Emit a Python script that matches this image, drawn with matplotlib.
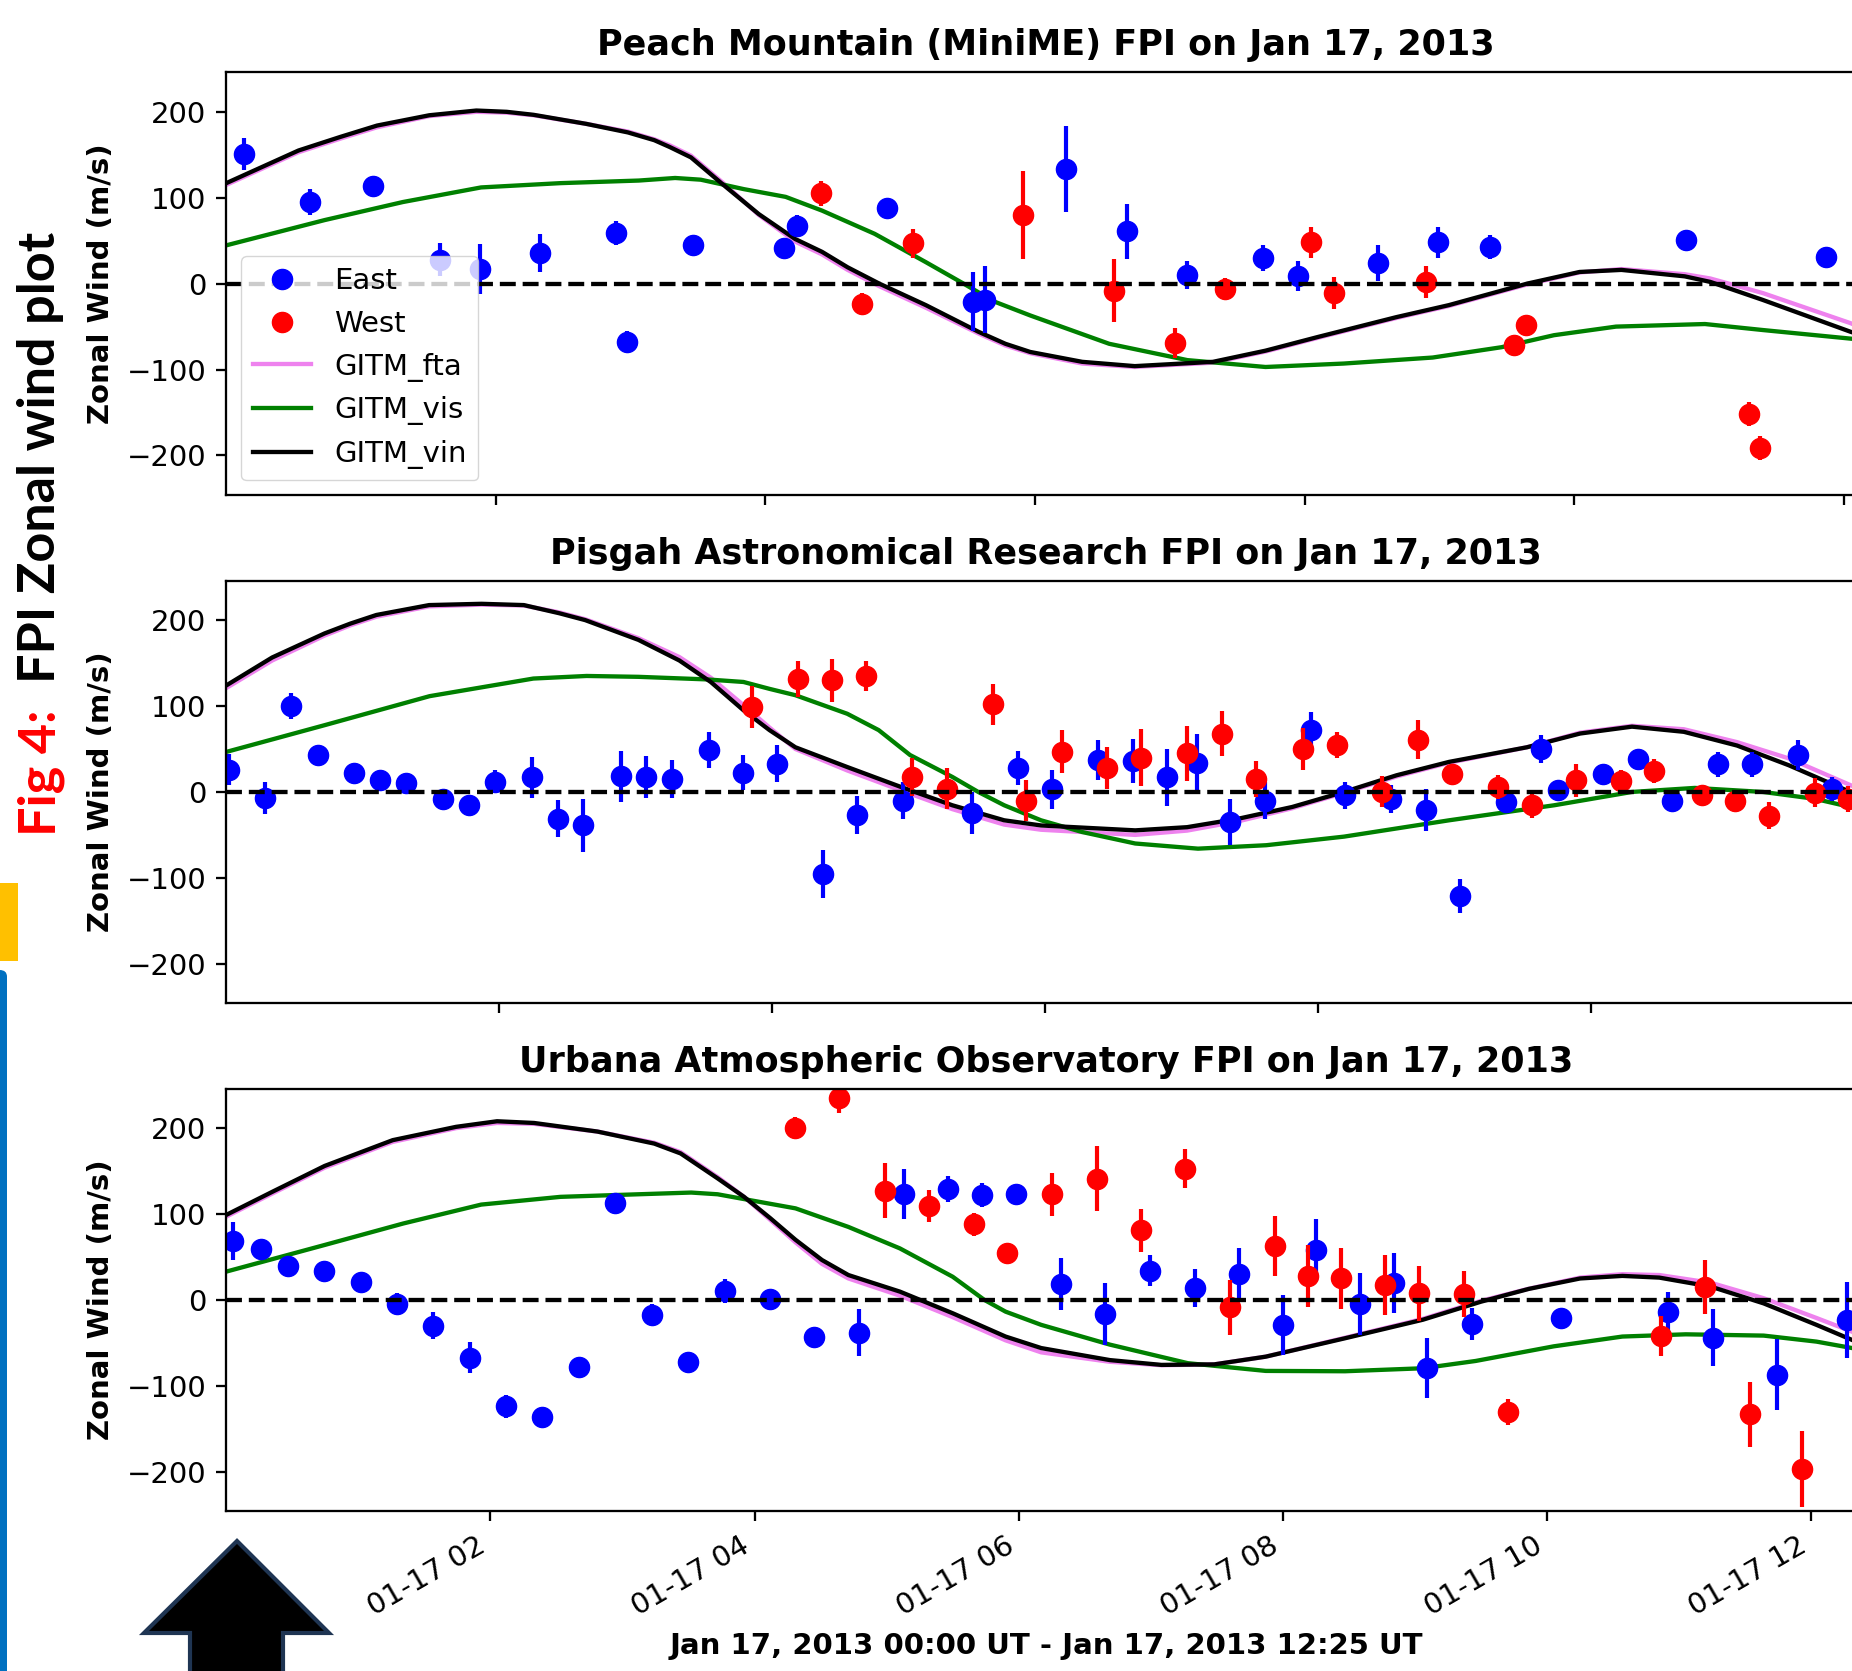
import matplotlib
matplotlib.use("Agg")
import matplotlib.pyplot as plt
from matplotlib.patches import Polygon, Rectangle, FancyBboxPatch

# ---------------- Peach Mountain (MiniME) ----------------
pm_east_t = [0.128, 0.621, 1.087, 1.588, 1.883, 2.329, 2.888, 2.974, 3.459, 4.138, 4.231, 4.903,
             5.54, 5.63, 6.232, 6.682, 7.125, 7.688, 7.952, 8.546, 8.992, 9.373, 10.828, 11.865]
pm_east_v = [151, 95, 114, 28, 17, 36, 59, -68, 45, 42, 67, 88,
             -21, -19, 133, 61, 10, 30, 9, 24, 48, 43, 51, 31]
pm_east_e = [19, 15, 5, 19, 29, 22, 14, 13, 5, 8, 13, 5,
             34, 39, 50, 32, 16, 15, 17, 21, 18, 14, 6, 6]
pm_west_t = [4.414, 4.717, 5.097, 5.912, 6.589, 7.039, 7.412, 8.049, 8.22, 8.899, 9.555, 9.644,
             11.294, 11.375]
pm_west_v = [105, -24, 47, 80, -8, -69, -6, 48, -11, 2, -71, -48, -152, -191]
pm_west_e = [15, 13, 17, 51, 37, 17, 13, 18, 19, 19, 5, 6, 14, 14]
pm_vin_t = [0, 0.536, 0.85, 1.118, 1.506, 1.855, 2.08, 2.28, 2.67, 2.98, 3.175, 3.29, 3.447, 3.68,
            3.95, 4.22, 4.42, 4.61, 4.845, 5.19, 5.58, 5.78, 5.964, 6.35, 6.74, 7.32, 7.71, 8.10,
            8.68, 9.07, 9.65, 10.04, 10.35, 10.82, 11.01, 11.40, 12.05, 12.17]
pm_vin = [117, 155, 171, 184, 196, 201.5, 200, 196.5, 186, 176, 167, 159, 147, 116,
          81, 52, 37, 19, 0, -25, -56, -70, -79.5, -91, -96, -91, -78, -62,
          -39, -25, 0, 13.6, 16, 8.5, 2, -19, -56, -62]
pm_fta = [115, 153, 169, 182, 195, 200, 199, 196, 186, 177, 168, 161, 149, 118,
          80, 49, 34, 16, -3, -28, -58, -72, -81, -93, -97, -92, -79, -63,
          -40, -26, -1, 13, 17, 11, 6, -11, -46, -54]
pm_vis_t = [0, 0.73, 1.31, 1.89, 2.48, 3.06, 3.33, 3.52, 3.84, 4.15, 4.42, 4.81, 5.19, 5.47,
            5.70, 5.964, 6.55, 7.13, 7.71, 8.29, 8.95, 9.46, 9.85, 10.31, 10.97, 11.40, 12.05, 12.17]
pm_vis = [44.6, 74, 95, 112, 117, 120, 123, 121, 110, 101, 85, 58, 25, 0,
          -21, -37, -70, -89, -97, -93, -86, -74, -60, -50, -47, -54, -64, -66]

# ---------------- Pisgah Astronomical Research ----------------
par_east_t = [0.021, 0.286, 0.474, 0.670, 0.938, 1.126, 1.318, 1.590, 1.778, 1.966, 2.242, 2.429,
              2.613, 2.89, 3.074, 3.265, 3.534, 3.787, 4.036, 4.374, 4.623, 4.96, 5.463, 5.80,
              6.052, 6.39, 6.643, 6.896, 7.11, 7.352, 7.609, 7.95, 8.195, 8.537, 8.794, 9.043,
              9.38, 9.63, 9.756, 10.09, 10.343, 10.596, 10.929, 11.179, 11.516, 11.769]
par_east_v = [26, -7, 100, 43, 22, 14, 10.5, -8.5, -15, 12, 17, -31,
              -39, 18, 17.5, 15.5, 48.5, 22.5, 33, -95, -27, -10, -24.5, 28,
              3, 37, 36, 17, 34, -35, -10, 72, -4, -8, -21, -121,
              -12, 50, 2, 21, 38, -10, 32, 32, 43, 3]
par_east_e = [18, 19, 15, 4, 4, 4, 4, 4, 4, 13, 24, 22,
              31, 30, 24, 22, 21, 20, 22, 28, 22, 21, 24, 20,
              23, 23, 26, 33, 34, 27, 22, 21, 16, 16, 25, 20,
              13, 16, 5, 5, 5, 5, 15, 15, 17, 14]
par_west_t = [3.852, 4.186, 4.439, 4.689, 5.025, 5.278, 5.616, 5.861, 6.121, 6.451, 6.704, 7.041,
              7.294, 7.544, 7.889, 8.138, 8.468, 8.732, 8.982, 9.315, 9.564, 9.887, 10.216,
              10.465, 10.811, 11.056, 11.305, 11.643, 11.884]
par_west_v = [99, 131, 130, 135, 17, 4, 102, -10, 47, 28, 40, 45,
              68, 15.5, 50, 55, 0, 61, 21, 6, -15.5, 13.6, 12.8,
              24, -3, -10.5, -27.6, -1, -8]
par_west_e = [24, 21, 25, 18, 22, 24, 24, 24, 25, 24, 33, 32,
              26, 21, 24, 15, 18, 23, 5, 14, 15, 19, 13,
              14, 5, 13, 16, 17, 15]
par_vin_t = [0, 0.336, 0.72, 0.91, 1.10, 1.486, 1.87, 2.18, 2.44, 2.63, 3.02, 3.32, 3.55, 3.79,
             3.98, 4.17, 4.55, 4.94, 5.32, 5.70, 5.97, 6.66, 7.04, 7.42, 7.81, 8.19, 8.575, 8.96,
             9.53, 9.92, 10.30, 10.68, 11.07, 11.45, 11.90, 12.02]
par_vin = [124, 156.5, 184.5, 196, 206, 217.5, 219, 217.5, 208, 200, 177, 153, 128, 95,
           72, 52, 29, 6, -15.5, -33, -39, -44.7, -41, -31, -17.5, 0, 19.4, 35,
           52, 68, 76, 70, 54, 31, 0, -8]
par_fta = [121, 153, 182, 194, 204, 216, 218, 217, 209, 201, 179, 157, 133, 101,
           75, 50, 25, 2, -20, -38, -44, -50, -45, -34, -19, -1, 18, 34,
           52, 69, 77, 73, 58, 39, 8, 0]
par_vis_t = [0, 0.72, 1.49, 2.25, 2.64, 3.02, 3.52, 3.79, 3.98, 4.17, 4.55, 4.78, 5.01, 5.32,
             5.51, 5.70, 5.97, 6.27, 6.66, 7.12, 7.62, 8.19, 8.96, 9.73, 10.30, 10.76, 11.26,
             11.64, 11.90, 12.02]
par_vis = [46.6, 77.7, 111.5, 132, 135, 134, 131, 128, 120, 112.6, 91, 72, 43, 17.5,
           0, -15.5, -33, -46.6, -60, -66, -62, -52, -33, -15.5, 0, 4.7, 0,
           -8, -17.5, -20]

# ---------------- Urbana Atmospheric Observatory ----------------
uao_east_t = [0.051, 0.262, 0.468, 0.741, 1.018, 1.296, 1.565, 1.843, 2.120, 2.394, 2.671, 2.945,
              3.222, 3.496, 3.773, 4.114, 4.447, 4.788, 5.128, 5.465, 5.723, 5.977, 6.317, 6.654,
              6.991, 7.332, 7.668, 8.001, 8.251, 8.584, 8.842, 9.091, 9.428, 10.106, 10.919,
              11.255, 11.739, 12.274]
uao_east_v = [69, 59, 40, 34, 21, -5, -30, -67, -124, -136, -78, 113,
              -17.5, -72, 10, 1, -43, -38, 123, 129, 122, 123, 18.6, -16.7,
              34, 13.6, 30, -29, 58, -5, 20, -79, -28, -21, -14,
              -44, -87, -23]
uao_east_e = [22, 8, 4, 10, 4, 13, 16, 18, 13, 4, 4, 5,
              13, 4, 14, 10, 4, 27, 29, 15, 14, 5, 30, 36,
              18, 22, 31, 35, 36, 36, 35, 35, 19, 5, 23,
              33, 41, 44]
uao_west_t = [4.305, 4.641, 4.986, 5.323, 5.664, 5.913, 6.253, 6.590, 6.927, 7.260, 7.601, 7.938,
              8.192, 8.437, 8.774, 9.028, 9.373, 9.706, 10.859, 11.192, 11.533, 11.929]
uao_west_v = [200, 234.5, 127, 109.5, 88, 55, 123, 141, 81, 153, -8.5, 63,
              28, 25, 17, 8, 7, -130, -42, 15, -133, -197]
uao_west_e = [13, 17, 32, 19, 13, 5, 25, 38, 25, 23, 32, 35,
              36, 36, 35, 32, 27, 15, 23, 31, 38, 44]
uao_vin_t = [0, 0.35, 0.745, 1.26, 1.74, 2.05, 2.33, 2.81, 3.24, 3.44, 3.72, 3.92, 4.12, 4.31,
             4.51, 4.71, 5.10, 5.50, 5.90, 6.17, 6.69, 7.08, 7.48, 7.87, 8.47, 9.06, 9.50, 9.86,
             10.25, 10.57, 10.85, 11.24, 11.64, 12.04, 12.31, 12.43]
uao_vin = [99, 126, 156, 186, 201.5, 208, 206, 196, 182, 170.5, 141.5, 120, 95, 70,
           46.5, 29, 9.7, -15.5, -42.6, -56, -70, -75.6, -75, -66, -44.6, -23, -2, 12.8,
           25, 28, 26, 15.5, -4, -29, -46.6, -54]
uao_fta = [97, 124, 154, 184, 200, 206, 205, 196, 183, 172, 143, 120, 93, 67,
           42, 25, 5, -20, -47, -61, -72, -76, -75, -66, -44, -22, -1, 13,
           26, 30, 29, 20, 2, -21, -37, -45]
uao_vis_t = [0, 0.745, 1.34, 1.93, 2.53, 3.12, 3.52, 3.72, 3.92, 4.31, 4.71, 5.10, 5.50, 5.74,
             5.90, 6.17, 6.69, 7.28, 7.87, 8.47, 9.06, 9.46, 10.05, 10.57, 11.05, 11.64, 12.04,
             12.31, 12.43]
uao_vis = [33, 64, 89, 111, 120, 123, 125, 123, 117.4, 106.6, 85, 60, 27, 0,
           -13.6, -29, -52, -73.6, -82.6, -83, -79.5, -71, -54, -42.6, -40, -41.5, -48.5,
           -56, -59]

titles = ["Peach Mountain (MiniME) FPI on Jan 17, 2013",
          "Pisgah Astronomical Research FPI on Jan 17, 2013",
          "Urbana Atmospheric Observatory FPI on Jan 17, 2013"]
x_end_hours = [12.167, 12.017, 12.417]
tick_hours = [2, 4, 6, 8, 10, 12]
tick_labels = ["01-17 02", "01-17 04", "01-17 06", "01-17 08", "01-17 10", "01-17 12"]
y_ticks = [-200, -100, 0, 100, 200]
x_label = "Jan 17, 2013 00:00 UT - Jan 17, 2013 12:25 UT"

stations = [
    dict(east=(pm_east_t, pm_east_v, pm_east_e), west=(pm_west_t, pm_west_v, pm_west_e),
         fta=(pm_vin_t, pm_fta), vis=(pm_vis_t, pm_vis), vin=(pm_vin_t, pm_vin)),
    dict(east=(par_east_t, par_east_v, par_east_e), west=(par_west_t, par_west_v, par_west_e),
         fta=(par_vin_t, par_fta), vis=(par_vis_t, par_vis), vin=(par_vin_t, par_vin)),
    dict(east=(uao_east_t, uao_east_v, uao_east_e), west=(uao_west_t, uao_west_v, uao_west_e),
         fta=(uao_vin_t, uao_fta), vis=(uao_vis_t, uao_vis), vin=(uao_vin_t, uao_vin)),
]

plt.rcParams.update({
    "font.family": "DejaVu Sans",
    "font.size": 21,
    "axes.linewidth": 1.64,
    "xtick.major.size": 7.2, "ytick.major.size": 7.2,
    "xtick.major.width": 1.64, "ytick.major.width": 1.64,
    "xtick.major.pad": 7.2, "ytick.major.pad": 7.2,
    "axes.titlepad": 12.3, "axes.labelpad": 8.2,
    "axes.titlesize": 25.2, "axes.titleweight": "bold",
    "legend.fontsize": 21,
    "lines.solid_joinstyle": "round",
})

W, H = 1852, 1671
fig = plt.figure(figsize=(W / 100, H / 100), dpi=100)

ax_left = 226.3 / W
ax_width = 1640 / W
ax_height = 422.7 / H
ax_bottoms = [(H - 495.0) / H, (H - 1003.3) / H, (H - 1511.3) / H]

LW = 3.1
MS = 14.5
for i, st in enumerate(stations):
    ax = fig.add_axes([ax_left, ax_bottoms[i], ax_width, ax_height])
    h_fta, = ax.plot(*st["fta"], color="violet", lw=LW, label="GITM_fta")
    h_vis, = ax.plot(*st["vis"], color="green", lw=LW, label="GITM_vis")
    h_vin, = ax.plot(*st["vin"], color="black", lw=LW, label="GITM_vin")
    et, ev, ee = st["east"]
    wt, wv, we = st["west"]
    ax.errorbar(et, ev, yerr=ee, fmt="none", ecolor="blue", elinewidth=3)
    h_e, = ax.plot(et, ev, "o", color="blue", ms=MS, label="East")
    ax.errorbar(wt, wv, yerr=we, fmt="none", ecolor="red", elinewidth=3)
    h_w, = ax.plot(wt, wv, "o", color="red", ms=MS, label="West")
    ax.axhline(0, color="black", ls="--", lw=LW)

    ax.set_xlim(0, x_end_hours[i])
    ax.set_ylim(-246, 246)
    ax.set_yticks(y_ticks)
    ax.set_xticks(tick_hours)
    ax.set_title(titles[i])
    ax.set_ylabel("Zonal Wind (m/s)", fontweight="bold")
    if i == 2:
        ax.set_xticklabels(tick_labels, rotation=30, ha="right")
        ax.set_xlabel(x_label, fontweight="bold")
    else:
        ax.set_xticklabels([])
    if i == 0:
        ax.legend(handles=[h_e, h_w, h_fta, h_vis, h_vin], loc="lower left")

# side caption
fig.text(41 / W, 1 - 836 / H, "Fig 4:", rotation=90, ha="center", va="bottom",
         color="red", fontsize=37.5, fontweight="bold", family="Lato")
fig.text(41 / W, 1 - 683 / H, "FPI Zonal wind plot", rotation=90, ha="center", va="bottom",
         color="black", fontsize=37.5, fontweight="bold", family="Lato")

# slide decorations on the left edge
def px(x, y):
    return (x / W, 1 - y / H)

fig.patches.append(Rectangle(px(0, 961), 18 / W, 78 / H, transform=fig.transFigure,
                             facecolor="#FFC000", edgecolor="none"))
fig.patches.append(FancyBboxPatch(px(-10, 1700), 17 / W, 730 / H, transform=fig.transFigure,
                                  boxstyle="round,pad=0,rounding_size=0.004",
                                  facecolor="#0070C0", edgecolor="none"))
arrow_pts = [px(237, 1541), px(329, 1633), px(283, 1633), px(283, 1700),
             px(190, 1700), px(190, 1633), px(144, 1633)]
fig.patches.append(Polygon(arrow_pts, closed=True, transform=fig.transFigure,
                           facecolor="black", edgecolor="#1f3553", lw=3))

fig.savefig("out.png", dpi=100)
